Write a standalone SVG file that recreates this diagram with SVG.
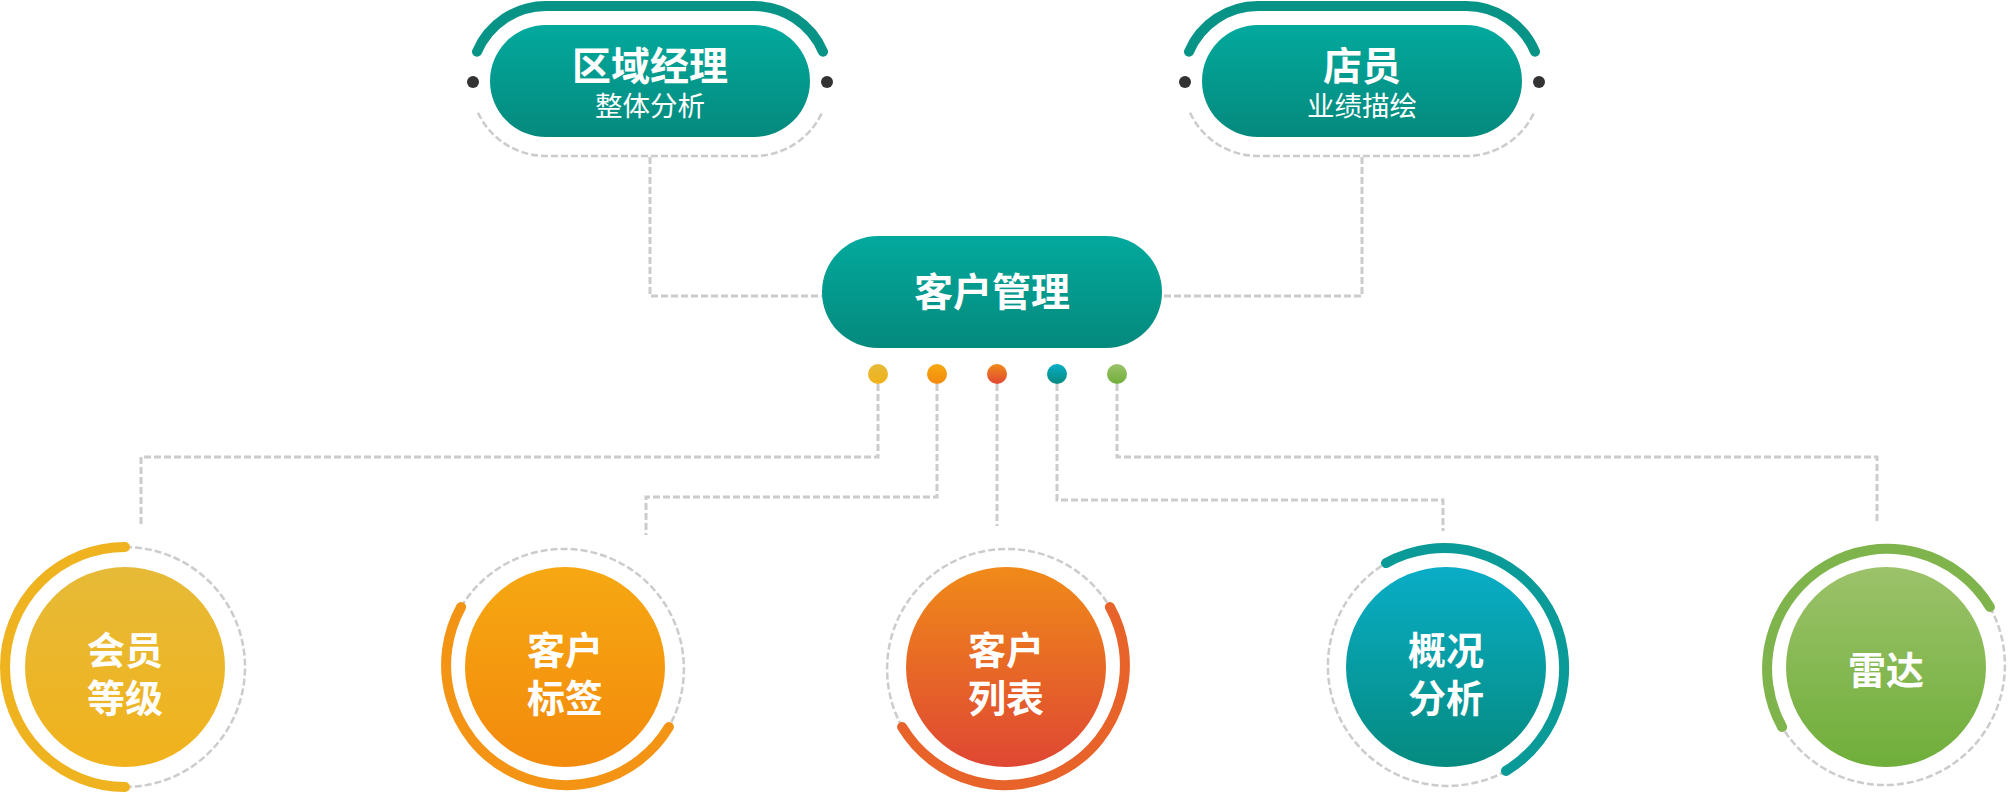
<svg xmlns="http://www.w3.org/2000/svg" width="2008" height="792" viewBox="0 0 2008 792">
<defs>
<linearGradient id="gTeal" x1="0" y1="0" x2="0" y2="1"><stop offset="0" stop-color="#03A99D"/><stop offset="1" stop-color="#05897D"/></linearGradient>
<linearGradient id="g1" x1="0" y1="0" x2="0" y2="1"><stop offset="0" stop-color="#E6BA37"/><stop offset="1" stop-color="#F1B21C"/></linearGradient>
<linearGradient id="g2" x1="0" y1="0" x2="0" y2="1"><stop offset="0" stop-color="#F6A812"/><stop offset="1" stop-color="#F38A0C"/></linearGradient>
<linearGradient id="g3" x1="0" y1="0" x2="0" y2="1"><stop offset="0" stop-color="#F08A19"/><stop offset="1" stop-color="#DF4733"/></linearGradient>
<linearGradient id="g4" x1="0" y1="0" x2="0" y2="1"><stop offset="0" stop-color="#09ADC6"/><stop offset="1" stop-color="#058A7F"/></linearGradient>
<linearGradient id="g5" x1="0" y1="0" x2="0" y2="1"><stop offset="0" stop-color="#9CC26A"/><stop offset="1" stop-color="#6FAE3A"/></linearGradient>
</defs>
<style>
.dash{fill:none;stroke:#CCCCCC;stroke-width:3;stroke-dasharray:7 3}
.ring{fill:none;stroke:#CCCCCC;stroke-width:2.5;stroke-dasharray:7 3}
.arc{fill:none;stroke-width:10;stroke-linecap:round}
.pin{fill:#333333}
.t{font-family:"Liberation Sans","Noto Sans CJK SC",sans-serif;fill:#FFFFFF;text-anchor:middle}
.title{font-size:39px;font-weight:bold}
.sub{font-size:27.5px;font-weight:normal}
.ct{font-size:38px;font-weight:bold}
</style>

<g id="connectors">
<path class="dash" d="M650,157 V296 H822"/>
<path class="dash" d="M1362,157 V296 H1162"/>
<path class="dash" d="M878,384 V457 H141 V525"/>
<path class="dash" d="M937,384 V497 H646 V535"/>
<path class="dash" d="M997,384 V526"/>
<path class="dash" d="M1057,384 V500 H1443 V531"/>
<path class="dash" d="M1117,384 V457 H1877 V524"/>
</g>

<g id="node-regional">
<path class="arc" stroke="#079487" d="M477,51.7 A75,75 0 0 1 546,6 L754,6 A75,75 0 0 1 823,51.7"/>
<path class="ring" d="M478,112.7 A75,75 0 0 0 546,156 L754,156 A75,75 0 0 0 822,112.7"/>
<circle class="pin" cx="473" cy="82" r="6"/>
<circle class="pin" cx="827" cy="82" r="6"/>
<rect x="490" y="25" width="320" height="112" rx="56" fill="url(#gTeal)"/>
<text class="t title" x="650" y="80">区域经理</text>
<text class="t sub" x="650" y="116">整体分析</text>
</g>

<g id="node-clerk">
<path class="arc" stroke="#079487" d="M1189,51.7 A75,75 0 0 1 1258,6 L1466,6 A75,75 0 0 1 1535,51.7"/>
<path class="ring" d="M1190,112.7 A75,75 0 0 0 1258,156 L1466,156 A75,75 0 0 0 1534,112.7"/>
<circle class="pin" cx="1185" cy="82" r="6"/>
<circle class="pin" cx="1539" cy="82" r="6"/>
<rect x="1202" y="25" width="320" height="112" rx="56" fill="url(#gTeal)"/>
<text class="t title" x="1362" y="80">店员</text>
<text class="t sub" x="1362" y="116">业绩描绘</text>
</g>

<g id="node-customer">
<rect x="822" y="236" width="340" height="112" rx="56" fill="url(#gTeal)"/>
<text class="t title" x="992" y="306">客户管理</text>
<circle cx="878" cy="374" r="10" fill="url(#g1)"/>
<circle cx="937" cy="374" r="10" fill="url(#g2)"/>
<circle cx="997" cy="374" r="10" fill="url(#g3)"/>
<circle cx="1057" cy="374" r="10" fill="url(#g4)"/>
<circle cx="1117" cy="374" r="10" fill="url(#g5)"/>
</g>

<g id="node-level">
<path class="ring" d="M125,547 A120,120 0 0 1 125,787"/>
<path class="arc" stroke="#EFB320" d="M125,787 A120,120 0 0 1 125,547"/>
<circle cx="125" cy="667" r="100" fill="url(#g1)"/>
<text class="t ct" x="125" y="664">会员</text>
<text class="t ct" x="125" y="712">等级</text>
</g>

<g id="node-tags">
<path class="ring" d="M461.1,607 A120,120 0 0 1 668.9,727"/>
<path class="arc" stroke="#F39414" d="M668.9,727 A120,120 0 0 1 461.1,607"/>
<circle cx="565" cy="667" r="100" fill="url(#g2)"/>
<text class="t ct" x="565" y="664">客户</text>
<text class="t ct" x="565" y="712">标签</text>
</g>

<g id="node-list">
<path class="ring" d="M902.1,727 A120,120 0 0 1 1109.9,607"/>
<path class="arc" stroke="#E7632A" d="M1109.9,607 A120,120 0 0 1 902.1,727"/>
<circle cx="1006" cy="667" r="100" fill="url(#g3)"/>
<text class="t ct" x="1006" y="664">客户</text>
<text class="t ct" x="1006" y="712">列表</text>
</g>

<g id="node-overview">
<path class="ring" d="M1506,770.9 A120,120 0 0 1 1386,563.1"/>
<path class="arc" stroke="#0A9A97" d="M1386,563.1 A120,120 0 0 1 1506,770.9"/>
<circle cx="1446" cy="667" r="100" fill="url(#g4)"/>
<text class="t ct" x="1446" y="664">概况</text>
<text class="t ct" x="1446" y="712">分析</text>
</g>

<g id="node-radar">
<path class="ring" d="M1989.9,607 A120,120 0 0 1 1782.1,727"/>
<path class="arc" stroke="#7EB44B" d="M1782.1,727 A120,120 0 0 1 1989.9,607"/>
<circle cx="1886" cy="667" r="100" fill="url(#g5)"/>
<text class="t ct" x="1886" y="684">雷达</text>
</g>
</svg>
